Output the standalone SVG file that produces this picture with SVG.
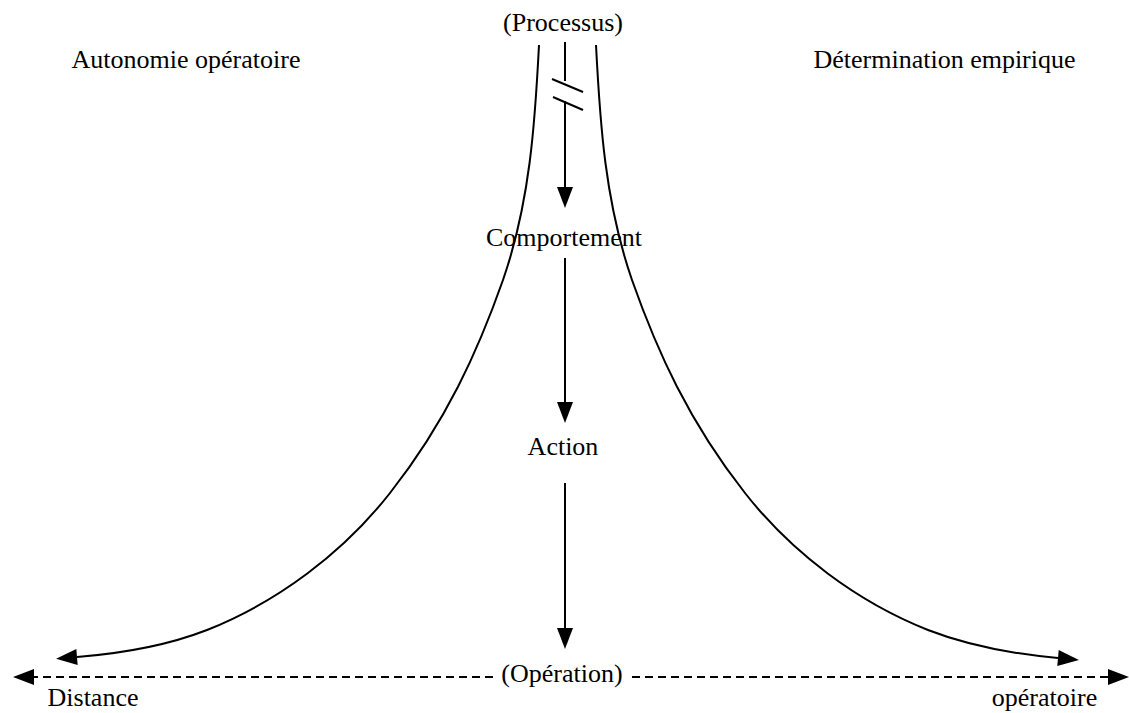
<svg xmlns="http://www.w3.org/2000/svg" width="1129" height="713" viewBox="0 0 1129 713">
  <defs>
    <style>
      text { font-family: "Liberation Serif", "Times New Roman", serif; font-size: 26px; fill: #000; text-anchor: middle; }
      .line { fill: none; stroke: #000; stroke-width: 2; }
      .dash { fill: none; stroke: #000; stroke-width: 2; stroke-dasharray: 8 5; }
    </style>
    <marker id="arrow" markerUnits="userSpaceOnUse" markerWidth="24" markerHeight="18" viewBox="0 -9 24 18" refX="0" refY="0" orient="auto" overflow="visible">
      <path d="M0,-8 L21,0 L0,8 Z" fill="#000"/>
    </marker>
  </defs>
  <rect width="1129" height="713" fill="#fff"/>

  <g id="connectors">
    <!-- Processus to Comportement (interrupted) -->
    <line class="line" x1="565" y1="42" x2="565" y2="81"/>
    <line class="line" x1="565" y1="101" x2="565" y2="187" marker-end="url(#arrow)"/>
    <line class="line" x1="552" y1="79" x2="583" y2="92"/>
    <line class="line" x1="553" y1="97" x2="583" y2="110"/>
    <!-- Comportement to Action -->
    <line class="line" x1="565" y1="258" x2="565" y2="402" marker-end="url(#arrow)"/>
    <!-- Action to Operation -->
    <line class="line" x1="565" y1="483" x2="565" y2="628" marker-end="url(#arrow)"/>
    <!-- Left curve -->
    <path class="line" d="M539,45 C535,123 530,202 503,280 C478,351 446,422 390,493 C343,553 277.5,602 207,630 C166,646 121,653.5 77,657" marker-end="url(#arrow)"/>
    <!-- Right curve -->
    <path class="line" d="M596,45 C600,123 605,202 632,280 C657,351 689,422 745,493 C792,553 857.5,602 928,630 C969,646 1014,654 1058,658" marker-end="url(#arrow)"/>
    <!-- Dashed axis -->
    <line class="dash" x1="493" y1="677" x2="34" y2="677" marker-end="url(#arrow)"/>
    <line class="dash" x1="632" y1="677" x2="1108" y2="677" marker-end="url(#arrow)"/>
  </g>

  <g id="processus"><text x="563" y="31">(Processus)</text></g>
  <g id="autonomie"><text x="186" y="68">Autonomie opératoire</text></g>
  <g id="determination"><text x="944.5" y="68">Détermination empirique</text></g>
  <g id="comportement"><text x="564" y="246">Comportement</text></g>
  <g id="action"><text x="563" y="455">Action</text></g>
  <g id="operation"><text x="562" y="682">(Opération)</text></g>
  <g id="distance"><text x="93" y="706">Distance</text></g>
  <g id="operatoire"><text x="1044.5" y="706">opératoire</text></g>
</svg>
